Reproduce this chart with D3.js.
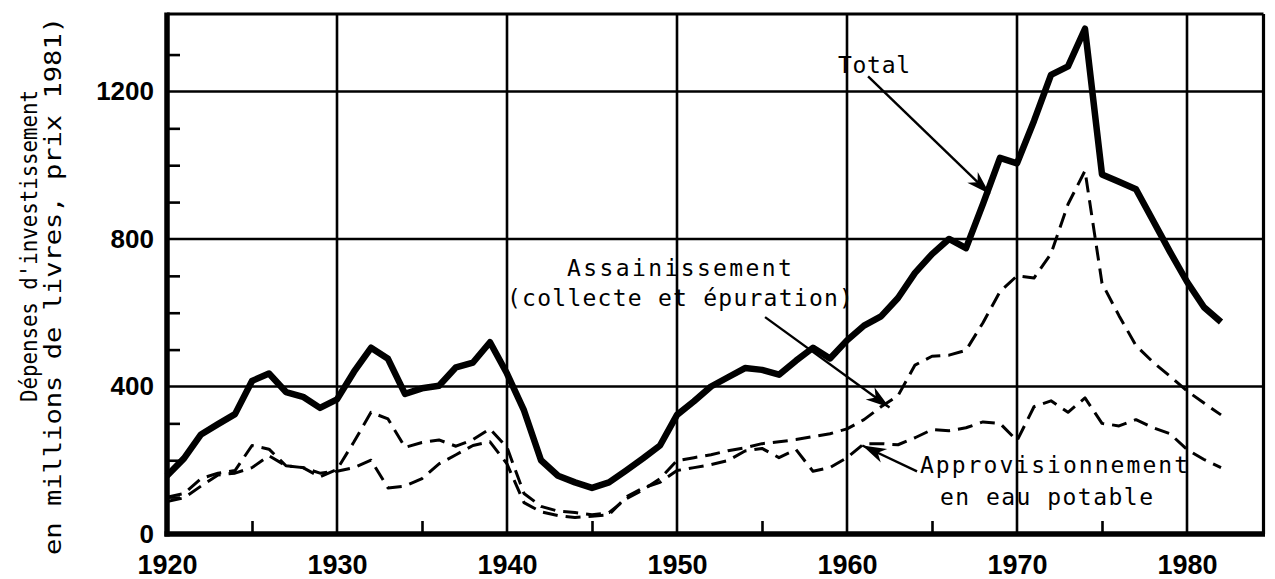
<!DOCTYPE html>
<html><head><meta charset="utf-8">
<script src="https://cdn.jsdelivr.net/npm/d3@7"></script>
<style>body{margin:0;background:#fff}svg{display:block}</style>
</head><body>
<svg id="chart" width="1275" height="579"></svg>
<script>
// ---- data (millions de livres, prix 1981) ----
const years = [1920,1921,1922,1923,1924,1925,1926,1927,1928,1929,
  1930,1931,1932,1933,1934,1935,1936,1937,1938,1939,
  1940,1941,1942,1943,1944,1945,1946,1947,1948,1949,
  1950,1951,1952,1953,1954,1955,1956,1957,1958,1959,
  1960,1961,1962,1963,1964,1965,1966,1967,1968,1969,
  1970,1971,1972,1973,1974,1975,1976,1977,1978,1979,
  1980,1981,1982];
const total = [158,205,270,298,325,415,435,385,372,342,
  365,440,505,475,380,395,402,452,465,520,
  435,335,200,158,140,125,140,172,205,240,
  323,360,400,425,450,445,432,470,505,476,
  525,565,590,640,708,759,800,775,895,1020,
  1005,1120,1245,1268,1370,975,955,935,850,765,
  684,615,575];
const assainissement = [100,110,150,165,172,240,230,185,180,155,
  175,250,330,312,235,248,255,238,256,285,
  235,110,75,62,58,52,58,95,120,150,
  199,207,215,226,234,245,250,256,264,272,
  285,310,345,375,458,482,485,498,573,657,
  700,694,760,894,985,680,592,511,466,428,
  388,355,323];
const approvisionnement = [88,98,130,160,165,180,212,185,180,165,
  170,180,200,125,130,150,190,215,240,250,
  190,85,60,50,45,48,52,100,125,140,
  172,180,188,199,225,232,207,229,170,180,
  207,245,245,242,261,283,280,288,304,300,
  253,345,361,330,369,300,293,310,288,272,
  229,202,180];
const yTicks = [0,400,800,1200];
const yMinorTicks = [100,200,300,500,600,700,900,1000,1100,1300];
const xTicks = [1920,1930,1940,1950,1960,1970,1980];
const xMinorTicks = [1925,1935,1945,1955,1965,1975];
const xGrid = [1930,1940,1950,1960,1970,1980];
const yGrid = [400,800,1200];
const yTitle = ["Dépenses d'investissement", "en millions de livres, prix 1981)"];
// annotations in data units
const notes = [
  {text:"Total", x0:1959.47, x1:1963.71, v:1250},
  {text:"Assainissement", x0:1943.53, x1:1956.76, v:700},
  {text:"(collecte et épuration)", x0:1940.0, x1:1960.35, v:618},
  {text:"Approvisionnement", x0:1964.29, x1:1980.06, v:165},
  {text:"en eau potable", x0:1965.47, x1:1978.0, v:78}
];
const arrows = [
  {x0:1961.24, v0:1241, x1:1968.4, v1:922},
  {x0:1955.18, v0:588, x1:1962.5, v1:343},
  {x0:1964.12, v0:170, x1:1960.9, v1:240}
];

// ---- drawing ----
const svg = d3.select('#chart');
const xMax = 1984.5, yMax = 1410;
const x = d3.scaleLinear().domain([1920, xMax]).range([167, 1263.5]);
const y = d3.scaleLinear().domain([0, yMax]).range([534, 14]);
const mono = "'DejaVu Sans Mono', monospace";
const bold = "'Liberation Sans', Arial, sans-serif";

// grid
svg.append('g').selectAll('line').data(xGrid).join('line')
  .attr('x1', d => x(d)).attr('x2', d => x(d))
  .attr('y1', y(0)).attr('y2', y(yMax))
  .attr('stroke', '#000').attr('stroke-width', 2.6);
svg.append('g').selectAll('line').data(yGrid).join('line')
  .attr('x1', x(1920)).attr('x2', x(xMax))
  .attr('y1', d => y(d)).attr('y2', d => y(d))
  .attr('stroke', '#000').attr('stroke-width', 2.6);

// minor ticks (inward)
const gyMinor = svg.append('g').attr('transform', `translate(${x(1920)},0)`)
  .call(d3.axisLeft(y).tickValues(yMinorTicks).tickSize(-13).tickFormat(''));
gyMinor.select('.domain').remove();
gyMinor.selectAll('line').attr('stroke-width', 2.6);
const gxMinor = svg.append('g').attr('transform', `translate(0,${y(0)})`)
  .call(d3.axisBottom(x).tickValues(xMinorTicks).tickSize(-13).tickFormat(''));
gxMinor.select('.domain').remove();
gxMinor.selectAll('line').attr('stroke-width', 2.6);

// frame
svg.append('line').attr('x1', x(1920)).attr('x2', x(xMax)).attr('y1', y(yMax)).attr('y2', y(yMax)).attr('stroke','#000').attr('stroke-width',3.2);
svg.append('line').attr('x1', x(xMax)).attr('x2', x(xMax)).attr('y1', y(yMax)).attr('y2', y(0)).attr('stroke','#000').attr('stroke-width',3.2);
svg.append('line').attr('x1', x(1920)).attr('x2', x(1920)).attr('y1', y(yMax)-1.5).attr('y2', y(0)+2.5).attr('stroke','#000').attr('stroke-width',5.5);
svg.append('line').attr('x1', x(1920)-2.5).attr('x2', x(xMax)+1.5).attr('y1', y(0)).attr('y2', y(0)).attr('stroke','#000').attr('stroke-width',5.5);

// axes labels
const gy = svg.append('g').attr('transform', `translate(${x(1920)},0)`)
  .call(d3.axisLeft(y).tickValues(yTicks).tickSize(0).tickPadding(13).tickFormat(d3.format('d')));
gy.select('.domain').remove();
gy.selectAll('text').attr('font-family', bold).attr('font-weight', 'bold').attr('font-size', 26).attr('fill', '#000');
const gx = svg.append('g').attr('transform', `translate(0,${y(0)})`)
  .call(d3.axisBottom(x).tickValues(xTicks).tickSize(0).tickPadding(21).tickFormat(d3.format('d')));
gx.select('.domain').remove();
gx.selectAll('text').attr('font-family', bold).attr('font-weight', 'bold').attr('font-size', 27).attr('fill', '#000');

// y title
svg.append('text').attr('transform', 'translate(37,246) rotate(-90)')
  .attr('text-anchor', 'middle').attr('font-family', mono).attr('font-size', 23)
  .attr('textLength', 312).attr('lengthAdjust', 'spacingAndGlyphs').text(yTitle[0]);
svg.append('text').attr('transform', 'translate(61,286) rotate(-90)')
  .attr('text-anchor', 'middle').attr('font-family', mono).attr('font-size', 23)
  .attr('textLength', 538).attr('lengthAdjust', 'spacingAndGlyphs').text(yTitle[1]);

// series
const line = d3.line().x((d, i) => x(years[i])).y(d => y(d));
svg.append('path').datum(approvisionnement).attr('d', line)
  .attr('fill', 'none').attr('stroke', '#000').attr('stroke-width', 3)
  .attr('stroke-dasharray', '15,8').attr('stroke-linejoin', 'round');
svg.append('path').datum(assainissement).attr('d', line)
  .attr('fill', 'none').attr('stroke', '#000').attr('stroke-width', 3)
  .attr('stroke-dasharray', '15,8').attr('stroke-linejoin', 'round');
svg.append('path').datum(total).attr('d', line)
  .attr('fill', 'none').attr('stroke', '#000').attr('stroke-width', 6.5)
  .attr('stroke-linejoin', 'round');

// arrows
svg.append('defs').append('marker').attr('id', 'ah')
  .attr('viewBox', '-26 -9 28 18').attr('refX', 0).attr('refY', 0)
  .attr('markerWidth', 28).attr('markerHeight', 18).attr('markerUnits', 'userSpaceOnUse')
  .attr('orient', 'auto')
  .append('path').attr('d', 'M0,0 L-24,-7.5 L-17,0 L-24,7.5 Z').attr('fill', '#000');
svg.append('g').selectAll('line').data(arrows).join('line')
  .attr('x1', d => x(d.x0)).attr('y1', d => y(d.v0))
  .attr('x2', d => x(d.x1)).attr('y2', d => y(d.v1))
  .attr('stroke', '#000').attr('stroke-width', 2.4).attr('marker-end', 'url(#ah)');

// annotation texts
svg.append('g').selectAll('text').data(notes).join('text')
  .attr('x', d => x(d.x0)).attr('y', d => y(d.v))
  .attr('font-family', mono).attr('font-size', 23).attr('fill', '#000')
  .attr('textLength', d => x(d.x1) - x(d.x0)).attr('lengthAdjust', 'spacing')
  .text(d => d.text);
</script>
</body></html>
